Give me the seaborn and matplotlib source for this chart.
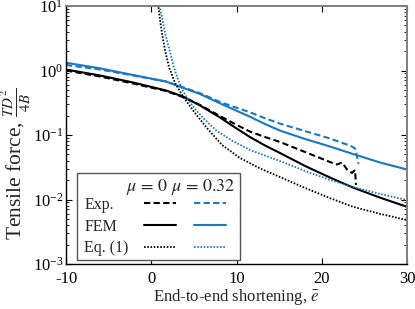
import numpy as np
import pandas as pd
import matplotlib
matplotlib.use("Agg")
import matplotlib.pyplot as plt
from matplotlib.lines import Line2D
import seaborn as sns

# ---------------- data ----------------
exp0_e = [-10, -6.01, -2.14, 1.73, 3.72, 5.72, 8.06, 9.82, 11.58, 13.34, 15.10, 18.04, 20.97, 21.79, 22.38, 22.96, 23.55, 23.90, 24.02]
exp0_f = [1.0, 0.807, 0.629, 0.481, 0.388, 0.292, 0.197, 0.148, 0.113, 0.093, 0.078, 0.0545, 0.0381, 0.0349, 0.0375, 0.0292, 0.0258, 0.0287, 0.0168]

fem0_e = [-10, -6.01, -2.14, 1.73, 3.72, 5.72, 8.06, 9.82, 11.58, 13.34, 15.10, 18.04, 20.97, 23.67, 26.83, 30]
fem0_f = [1.036, 0.837, 0.652, 0.490, 0.395, 0.287, 0.187, 0.131, 0.093, 0.0688, 0.0526, 0.0331, 0.0219, 0.0153, 0.0107, 0.0077]

eq0_e = [0.72, 0.83, 1.03, 1.26, 1.61, 2.08, 2.79, 3.76, 5.13, 6.54, 8.30, 10.41, 12.76, 15.10, 18.04, 20.97, 23.67, 26.83, 30]
eq0_f = [12, 10, 6.07, 3.81, 2.08, 1.13, 0.64, 0.388, 0.219, 0.128, 0.070, 0.044, 0.0303, 0.0223, 0.0151, 0.0105, 0.0077, 0.0060, 0.0048]

exp32_e = [-10, -6.01, -2.14, 1.73, 3.37, 5.72, 8.06, 9.82, 11.58, 13.34, 15.10, 18.04, 20.97, 23.44, 23.90, 24.13, 24.31]
exp32_f = [1.217, 1.036, 0.837, 0.675, 0.570, 0.445, 0.325, 0.270, 0.225, 0.182, 0.150, 0.115, 0.0882, 0.0675, 0.0618, 0.0472, 0.0355]

fem32_e = [-10, -6.01, -2.14, 1.73, 3.37, 5.72, 8.06, 9.82, 11.58, 13.34, 15.10, 18.04, 20.97, 23.67, 26.83, 30]
fem32_f = [1.32, 1.08, 0.852, 0.675, 0.561, 0.432, 0.31, 0.244, 0.192, 0.148, 0.117, 0.0867, 0.0663, 0.0507, 0.0375, 0.0292]

eq32_e = [0.85, 0.97, 1.32, 1.67, 2.14, 2.61, 3.17, 3.72, 4.43, 5.25, 6.07, 7.71, 9.47, 11.58, 15.10, 18.04, 20.97, 23.67, 26.83, 30]
eq32_f = [13, 10, 6.07, 3.55, 2.08, 1.17, 0.712, 0.481, 0.337, 0.244, 0.184, 0.115, 0.082, 0.0585, 0.0395, 0.0277, 0.0201, 0.0156, 0.0122, 0.0098]

mu_labels = ["0", "0.32"]
kinds = ["Exp.", "FEM", "Eq. (1)"]
x_ticks = [-10, 0, 10, 20, 30]

# ---------------- long-form table ----------------
series = {
    ("Exp.", "0"): (exp0_e, exp0_f),
    ("FEM", "0"): (fem0_e, fem0_f),
    ("Eq. (1)", "0"): (eq0_e, eq0_f),
    ("Exp.", "0.32"): (exp32_e, exp32_f),
    ("FEM", "0.32"): (fem32_e, fem32_f),
    ("Eq. (1)", "0.32"): (eq32_e, eq32_f),
}
rows = []
for (kind, mu), (es, fs) in series.items():
    for e, f in zip(es, fs):
        rows.append({"e": e, "force": f, "kind": kind, "mu": mu})
df = pd.DataFrame(rows)

# ---------------- style ----------------
sns.set_theme(style="ticks")
plt.rcParams["font.family"] = ["Liberation Serif", "DejaVu Serif"]
plt.rcParams["mathtext.fontset"] = "stix"
plt.rcParams["axes.unicode_minus"] = False

BLUE = "#1b78c2"
palette = {"0": "black", "0.32": BLUE}
styles = {
    "Exp.": dict(lw=1.5, dashes=(3.0, 1.6)),
    "FEM": dict(lw=1.5, dashes=None),
    "Eq. (1)": dict(lw=1.3, dashes=(0.9, 0.9)),
}

fig = plt.figure(figsize=(4.15, 3.09), dpi=100)
ax = fig.add_axes([66 / 415, 45 / 309, 341 / 415, 258 / 309])

for kind in kinds:
    sub = df[df["kind"] == kind]
    st = styles[kind]
    sns.lineplot(data=sub, x="e", y="force", hue="mu", palette=palette,
                 estimator=None, sort=False, legend=False, ax=ax,
                 linewidth=st["lw"])
    for ln in ax.lines[-2:]:
        if st["dashes"] is not None:
            ln.set_dashes(st["dashes"])
        ln.set_solid_capstyle("butt")
        ln.set_dash_capstyle("butt")
        ln.set_solid_joinstyle("round")

ax.set_yscale("log")
ax.set_xlim(-10, 30)
ax.set_ylim(1e-3, 1e1)
ax.set_xticks(x_ticks)
ax.set_xticklabels([str(t) for t in x_ticks])
ax.minorticks_on()
ax.xaxis.set_minor_locator(matplotlib.ticker.NullLocator())

ax.tick_params(which="both", direction="in", top=True, right=True,
               labelsize=12, colors="black")
ax.tick_params(which="major", length=4, width=0.8)
ax.tick_params(axis="x", which="major", pad=5)
ax.tick_params(axis="y", which="major", pad=2)
ax.tick_params(which="minor", length=2.2, width=0.6)

for s in ["left", "bottom"]:
    ax.spines[s].set_color("black")
    ax.spines[s].set_linewidth(1.0)
for s in ["top", "right"]:
    ax.spines[s].set_color("#7f7f7f")
    ax.spines[s].set_linewidth(1.4)

ax.set_xlabel(r"End-to-end shortening, $\bar{e}$", fontsize=12, labelpad=0)
ax.set_ylabel(r"Tensile force, $\frac{TD^2}{4B}$", fontsize=15.5)
ax.yaxis.set_label_coords(-0.096, 0.39)

# ---------------- legend ----------------
blank = Line2D([], [], linestyle="none")
handles = [blank, blank, blank]
labels = list(kinds)
for mu in mu_labels:
    for kind in kinds:
        st = styles[kind]
        h = Line2D([], [], color=palette[mu], lw=st["lw"])
        if st["dashes"] is not None:
            h.set_dashes(st["dashes"])
        handles.append(h)
        labels.append("")

leg = ax.legend(handles, labels, ncol=3, loc="lower left",
                bbox_to_anchor=(0.032, 0.015), borderaxespad=0,
                fontsize=11.5, title=r"$\hspace{3.5}\mu\,=\,0\ \mu\,=\,0.32$",
                title_fontsize=13, alignment="left",
                handlelength=2.0, handletextpad=0.2, columnspacing=0.95,
                labelspacing=0.35, borderpad=0.25, frameon=True,
                fancybox=False, framealpha=1)
leg.get_frame().set_edgecolor("#555555")
leg.get_frame().set_linewidth(1.0)
cols = leg._legend_handle_box.get_children()
for row in cols[0].get_children():
    row.get_children()[0].width = 0
leg._legend_box.sep = 0

fig.savefig("out.png", dpi=100)
